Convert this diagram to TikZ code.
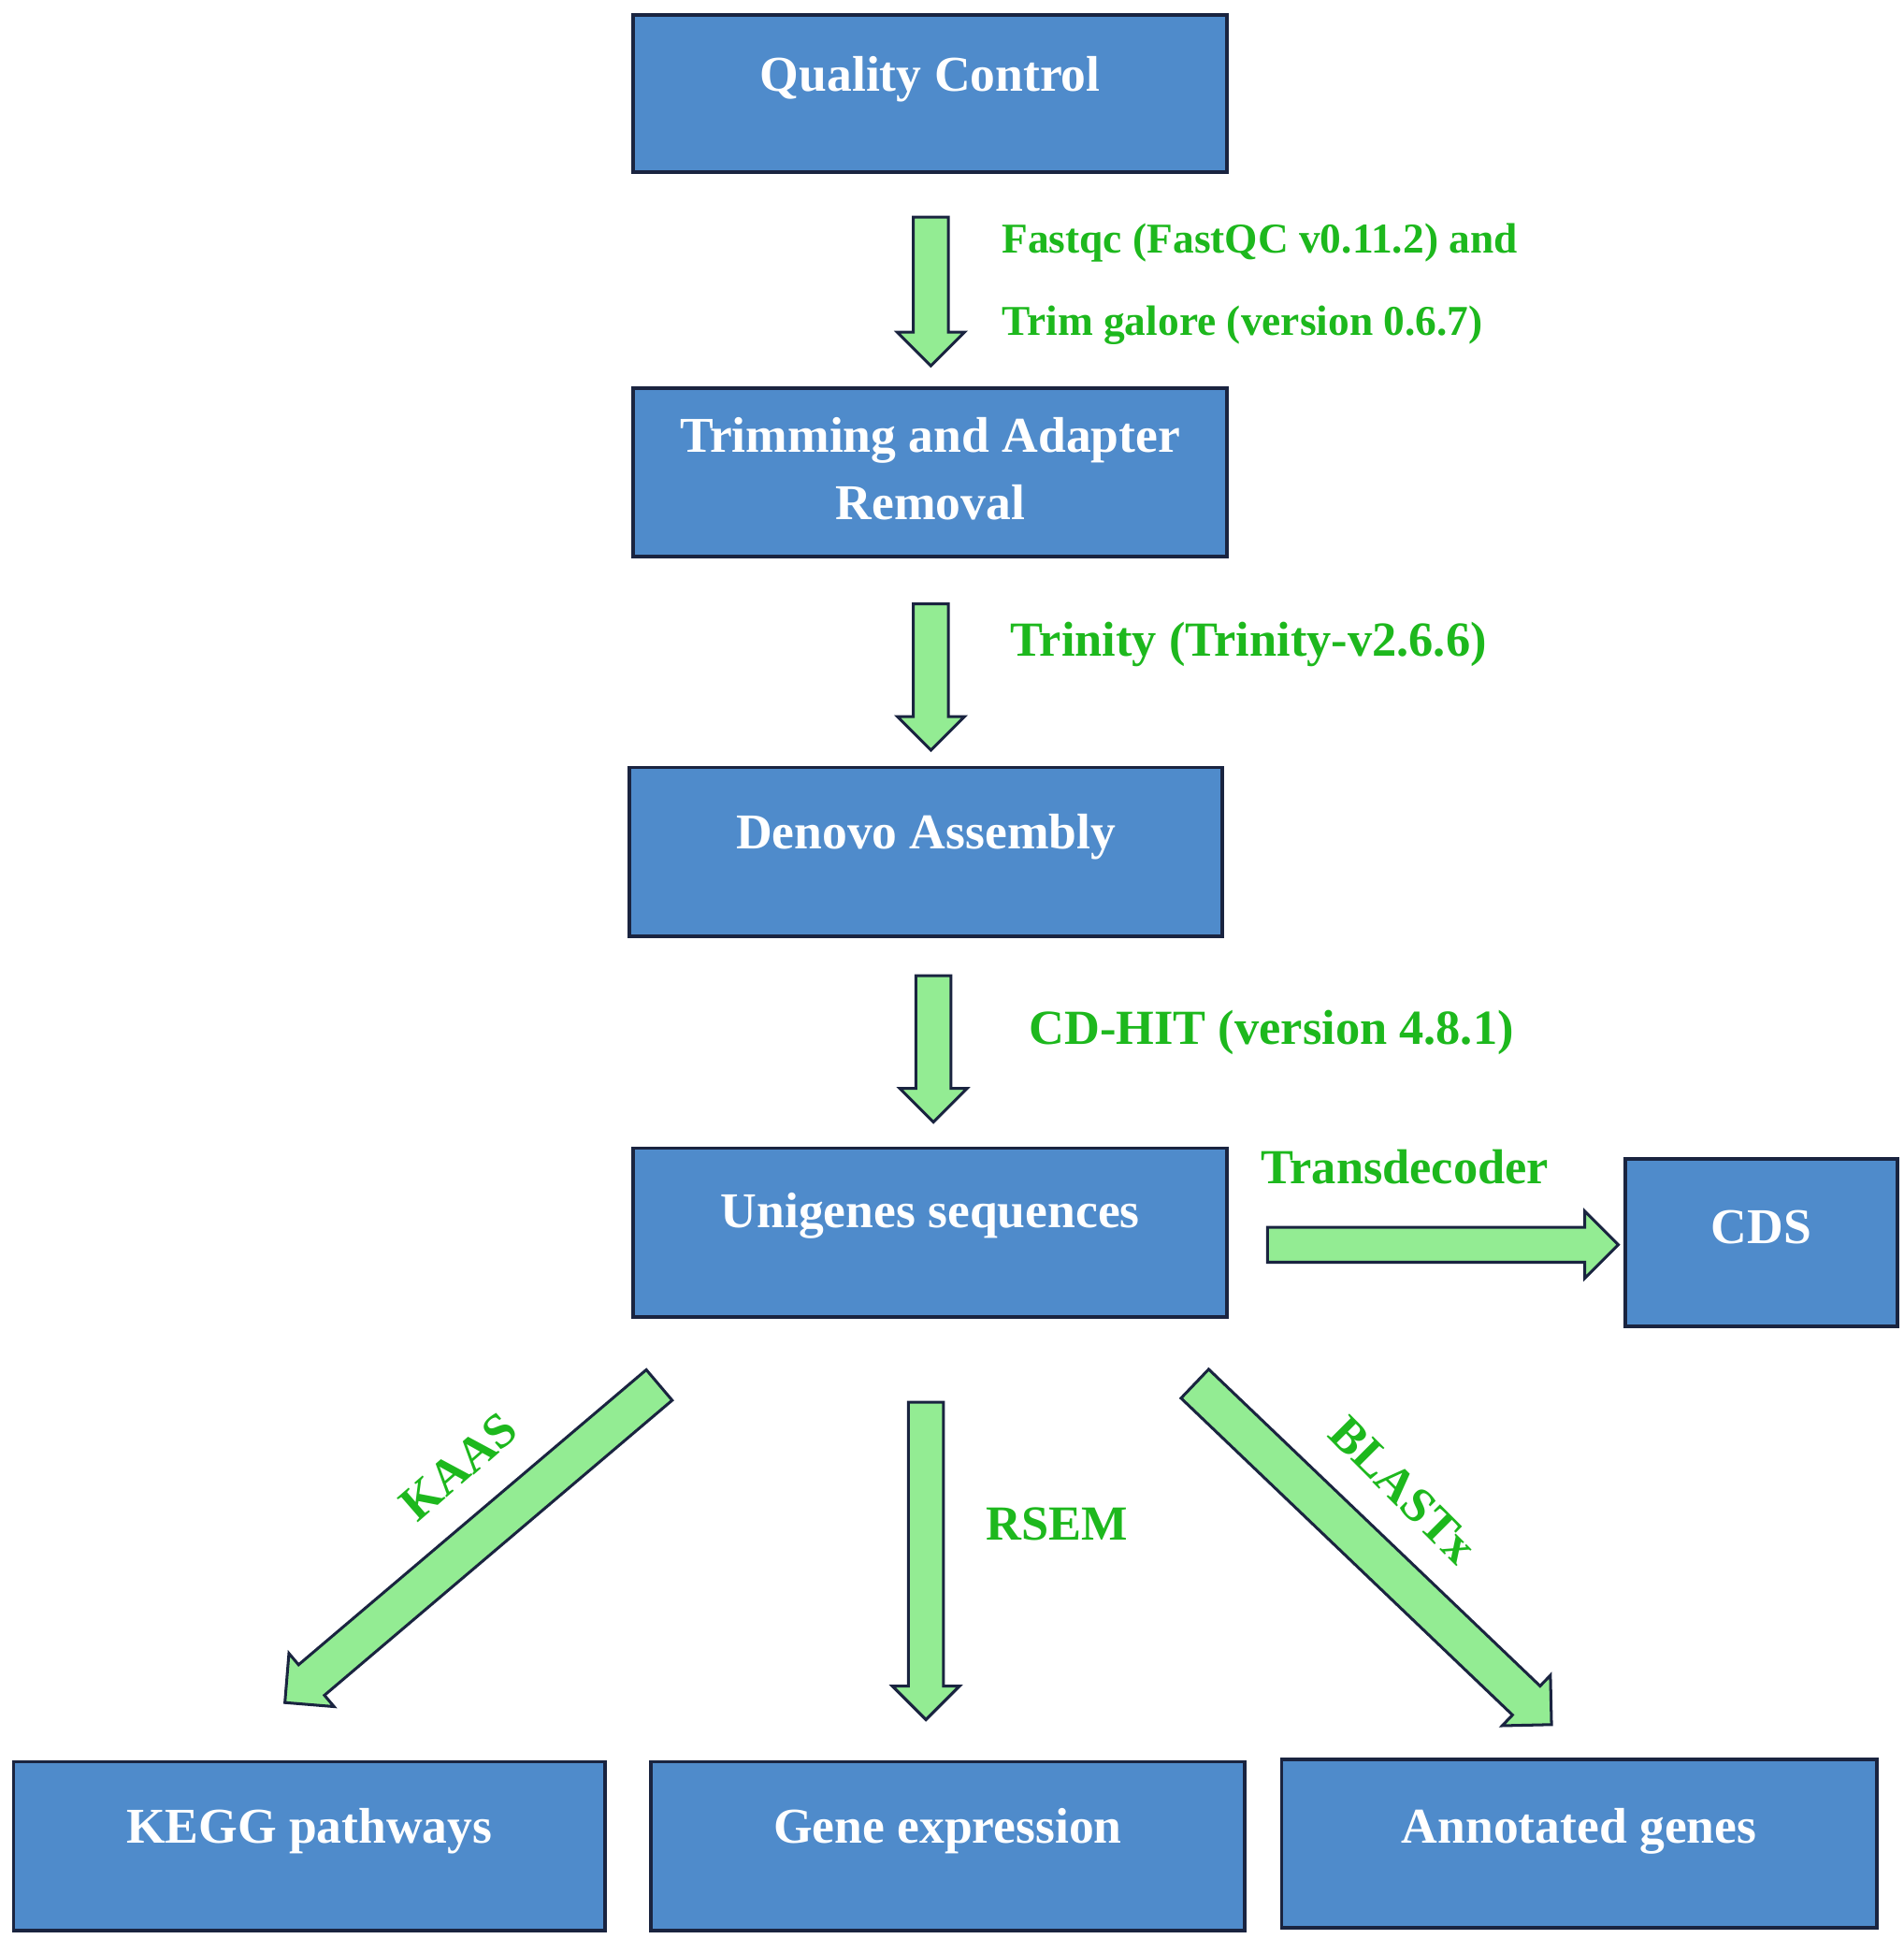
\documentclass[tikz,border=0pt]{standalone}
\usepackage{fontspec}
\setmainfont{Liberation Serif}
\usetikzlibrary{shapes.arrows}
\definecolor{boxfill}{HTML}{4F8BCB}
\definecolor{boxline}{HTML}{1A2440}
\definecolor{arrfill}{HTML}{93EC93}
\definecolor{lbl}{HTML}{1DB81D}
\begin{document}
\begin{tikzpicture}[x=0.02cm,y=-0.02cm,
  box/.style={draw=boxline,line width=1.6pt,fill=boxfill},
  btext/.style={text=white,font=\fontsize{23}{31}\selectfont\bfseries,align=center,inner sep=0pt},
  barr/.style={single arrow,draw=boxline,line width=1.3pt,fill=arrfill,inner xsep=0pt,inner ysep=0.26cm,single arrow head extend=0.26cm,single arrow head indent=0pt,shape border uses incircle=false},
  lab/.style={text=lbl,font=\fontsize{22.5}{26}\selectfont\bfseries,anchor=west,inner sep=0pt}]
\useasboundingbox (0,0) rectangle (1536,1564);
\newcommand{\bx}[7]{\node[box,minimum width=#4*0.02cm-#2*0.02cm,minimum height=#5*0.02cm-#3*0.02cm] (#1) at ({(#2+#4)/2},{(#3+#5)/2}) {};
\node[btext] (#1t) at ({(#2+#4)/2},#6) {#7};}
\bx{qc}{511}{12}{990}{139}{64}{Quality Control}
\bx{trim}{511}{313}{990}{449}{378}{Trimming and Adapter\\Removal}
\bx{den}{508}{619}{986}{755}{675}{Denovo Assembly}
\bx{uni}{511}{926}{990}{1062}{981}{Unigenes sequences}
\bx{cds}{1311}{935}{1531}{1070}{990}{CDS}
\bx{kegg}{11}{1421}{488}{1557}{1477}{KEGG pathways}
\bx{gene}{525}{1421}{1004}{1557}{1477}{Gene expression}
\bx{ann}{1034}{1419}{1514}{1555}{1477}{Annotated genes}
\node[barr,rotate=-90,minimum height=120*0.02cm] (a1) at (751,228) {};
\node[barr,rotate=-90,minimum height=118*0.02cm] (a2) at (751,539) {};
\node[barr,rotate=-90,minimum height=118*0.02cm] (a3) at (753,839) {};
\node[barr,minimum height=283*0.02cm] (a4) at (1157,1004) {};
\node[barr,rotate=-90,minimum height=256*0.02cm] (a5) at (747,1252) {};
\node[barr,rotate=-139.7,minimum height=396*0.02cm,inner ysep=0.3cm,single arrow head extend=0.24cm] (a6) at (387,1240) {};
\node[barr,rotate=-43.7,minimum height=398*0.02cm,inner ysep=0.3cm,single arrow head extend=0.24cm] (a7) at (1102,1248) {};
\node[lab,font=\fontsize{19.5}{22}\selectfont\bfseries] (l1) at (808,196) {Fastqc (FastQC v0.11.2) and};
\node[lab,font=\fontsize{19.5}{22}\selectfont\bfseries] (l2) at (808,262) {Trim galore (version 0.6.7)};
\node[lab] (l3) at (815,520) {Trinity (Trinity-v2.6.6)};
\node[lab] (l4) at (830,833) {CD-HIT (version 4.8.1)};
\node[lab] (l5) at (1017,941) {Transdecoder};
\node[lab] (l6) at (795,1229) {RSEM};
\node[lab,anchor=center,rotate=41] (l7) at (370,1183) {KAAS};
\node[lab,anchor=center,rotate=-45] (l8) at (1132,1202) {BLASTx};
\end{tikzpicture}
\end{document}
